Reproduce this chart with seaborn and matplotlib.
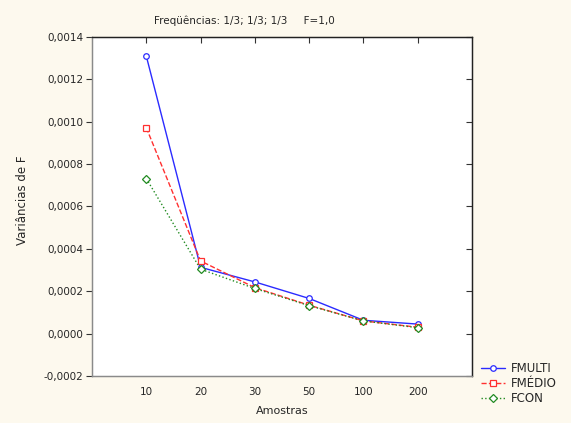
import numpy as np
import pandas as pd
import matplotlib
matplotlib.use("Agg")
import matplotlib.pyplot as plt
import seaborn as sns
from matplotlib.lines import Line2D
from matplotlib.ticker import FuncFormatter

# data
amostras = ["10", "20", "30", "50", "100", "200"]
fmulti = [0.00131, 0.000313, 0.000244, 0.000166, 0.000063, 0.000045]
fmedio = [0.000972, 0.000343, 0.000217, 0.000134, 0.00006, 0.00003]
fcon = [0.000732, 0.000304, 0.000213, 0.000132, 0.00006, 0.000028]
series_names = ["FMULTI", "FMÉDIO", "FCON"]

sns.set_style("white")
plt.rcParams["font.family"] = ["DejaVu Sans"]

W, H = 571, 423
fig = plt.figure(figsize=(W / 100, H / 100), dpi=100, facecolor="#fdf9ee")
ax = fig.add_axes([92 / W, 1 - 376 / H, 380 / W, 339 / H])
ax.set_facecolor("white")

styles = [
    (fmulti, "#2b2bff", "-", "o"),
    (fmedio, "#ff3030", "--", "s"),
    (fcon, "#228b22", ":", "D"),
]
handles = []
for (vals, col, ls, mk), name in zip(styles, series_names):
    sns.pointplot(x=amostras, y=vals, order=amostras, color=col, ax=ax,
                  linestyle=ls, marker=mk, markersize=4, markerfacecolor="white",
                  markeredgewidth=0.9, linewidth=1)
    handles.append(Line2D([], [], color=col, linestyle=ls, marker=mk,
                          markersize=4, markerfacecolor="white",
                          markeredgewidth=0.9, linewidth=1, label=name))

ax.set_xlim(-1, 6)
ax.set_ylim(-0.0002, 0.0014)
ax.set_yticks(np.arange(-0.0002, 0.00141, 0.0002))
ax.yaxis.set_major_formatter(FuncFormatter(lambda v, p: f"{v:.4f}".replace(".", ",").replace("-0,0000", "0,0000")))
ax.tick_params(axis="x", direction="in", length=4, width=0.8, labelsize=7.5,
               color="#333333", top=True, pad=8)
# outward ticks on the left side
ax.tick_params(axis="y", left=True, right=False, direction="out", length=4,
               width=0.8, color="#333333", labelsize=7.5, pad=2)

# inward ticks on the right side
ax2 = ax.twinx()
ax2.set_ylim(ax.get_ylim())
ax2.set_yticks(ax.get_yticks())
ax2.tick_params(axis="y", direction="in", length=4, width=0.8, color="#333333",
                labelright=False)
ax2.grid(False)

for a in (ax, ax2):
    for side, s in a.spines.items():
        s.set_linewidth(0.9)
        s.set_color("#8a8a8a" if side in ("left", "bottom") else "#222222")

ax.set_xlabel("Amostras", fontsize=8)
ax.xaxis.set_label_coords(0.5, -(406 - 376) / 339)
ax.set_ylabel("Variâncias de F", fontsize=8.5)
ax.yaxis.set_label_coords(-(92 - 29) / 380, (376 - 200) / 339)

fig.text(244 / W, 1 - 21 / H, "Freqüências: 1/3; 1/3; 1/3     F=1,0",
         ha="center", va="center", fontsize=7.5)

fig.legend(handles=handles, loc="upper left", bbox_to_anchor=(472 / W, 1 - 353 / H),
           frameon=False, fontsize=8.5, handlelength=2.0, handletextpad=0.5,
           labelspacing=0.15, borderpad=0.3)

fig.savefig("out.png", dpi=100, facecolor=fig.get_facecolor())
